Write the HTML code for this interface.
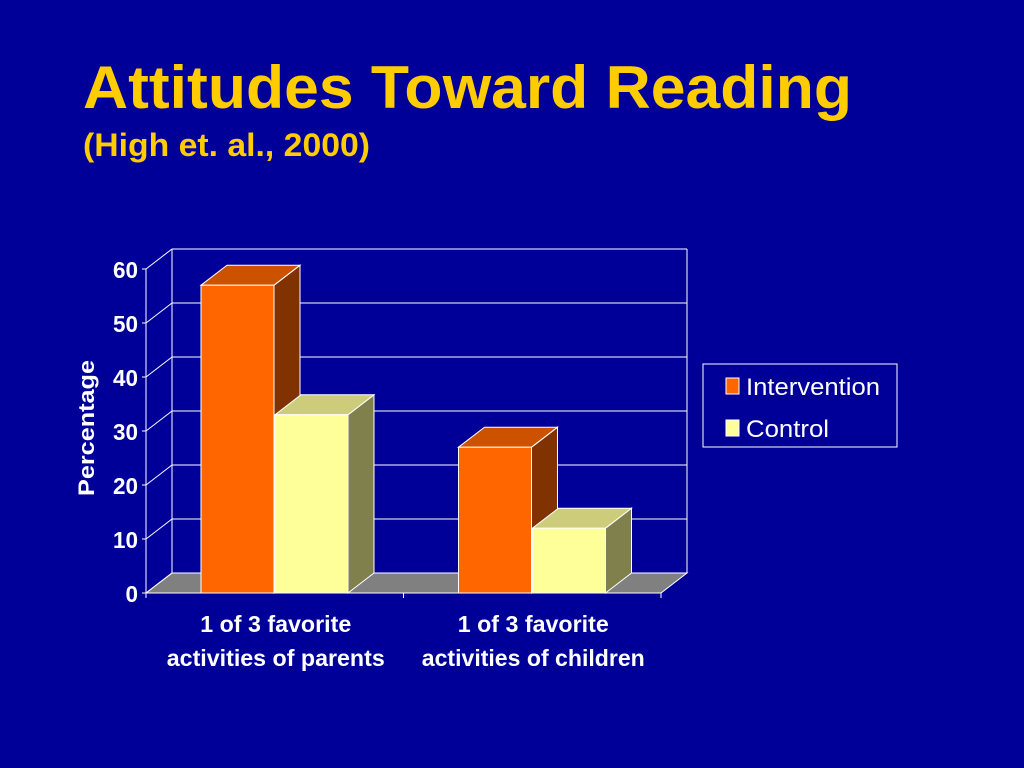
<!DOCTYPE html>
<html><head><meta charset="utf-8"><style>
body{margin:0;width:1024px;height:768px;background:#000099;overflow:hidden;font-family:"Liberation Sans",Arial,sans-serif}
svg{position:absolute;left:0;top:0}
</style></head><body>
<svg id="c" width="1024" height="768">
<text x="83" y="108" fill="#ffcc00" font-size="60" font-weight="bold" textLength="769" lengthAdjust="spacingAndGlyphs">Attitudes Toward Reading</text>
<text x="83" y="156" fill="#ffcc00" font-size="32" font-weight="bold" textLength="287" lengthAdjust="spacingAndGlyphs">(High et. al., 2000)</text>
<text transform="translate(94,428) rotate(-90)" text-anchor="middle" fill="#fff" font-size="22" font-weight="bold" textLength="136" lengthAdjust="spacingAndGlyphs">Percentage</text>
<g id="legend">
<rect x="703" y="364" width="194" height="83" fill="none" stroke="#fff" stroke-width="1"/>
<rect x="726" y="378" width="13" height="16" fill="#ff6600" stroke="#fff"/>
<text x="746" y="395" fill="#fff" font-size="24" textLength="134" lengthAdjust="spacingAndGlyphs">Intervention</text>
<rect x="726" y="420" width="13" height="16" fill="#ffff99" stroke="#fff"/>
<text x="746" y="437" fill="#fff" font-size="24" textLength="83" lengthAdjust="spacingAndGlyphs">Control</text>
</g>
</svg>
<script>
const categories1=["1 of 3 favorite","1 of 3 favorite"];
const categories2=["activities of parents","activities of children"];
const intervention=[57,27];
const control=[33,12];
const ticks=[0,10,20,30,40,50,60];
const svg=document.getElementById('c');
const NS='http://www.w3.org/2000/svg';
const X0=146,X1=661,Y0=593,PX=5.4,DX=26,DY=-20;
const y=v=>Y0-v*PX;
function el(t,a,p){const e=document.createElementNS(NS,t);for(const k in a)e.setAttribute(k,a[k]);(p||svg).appendChild(e);return e;}
const g=el('g',{});


const fl=el('polygon',{points:`${X0},${Y0} ${X1},${Y0} ${X1+DX},${Y0+DY} ${X0+DX},${Y0+DY}`,fill:'#808080',stroke:'#fff','stroke-width':1},g);


el('line',{x1:X0+DX,y1:y(60)+DY,x2:X1+DX,y2:y(60)+DY,stroke:'#fff'},g);
el('line',{x1:X1+DX,y1:y(60)+DY,x2:X1+DX,y2:Y0+DY,stroke:'#fff'},g);
el('line',{x1:X0+DX,y1:y(60)+DY,x2:X0+DX,y2:Y0+DY,stroke:'#fff'},g);
el('line',{x1:X0,y1:y(60),x2:X0,y2:Y0+4,stroke:'#fff'},g);
ticks.forEach(t=>{
  const gl=el('line',{x1:X0+DX,y1:y(t)+DY,x2:X1+DX,y2:y(t)+DY,stroke:'#fff'},g);
  
  
  el('line',{x1:X0,y1:y(t),x2:X0+DX,y2:y(t)+DY,stroke:'#fff'},g);
  el('line',{x1:X0-4,y1:y(t),x2:X0,y2:y(t),stroke:'#fff'},g);
  const tl=el('text',{x:X0-8,y:y(t)+9,'text-anchor':'end',fill:'#fff','font-size':23,'font-weight':'bold',textLength:String(t).length*12.5,lengthAdjust:'spacingAndGlyphs'},g);
  tl.textContent=t;
  
  
});
el('line',{x1:X0,y1:Y0,x2:X1,y2:Y0,stroke:'#fff'},g);
[X0,(X0+X1)/2,X1].forEach(x=>el('line',{x1:x,y1:Y0,x2:x,y2:Y0+5,stroke:'#fff'},g));
function bar(x,v,cf,ct,cs,name){
  const b=el('g',{},g);
  
  
  const w=73,top=y(v);
  el('polygon',{points:`${x+w},${top} ${x+w+DX},${top+DY} ${x+w+DX},${Y0+DY} ${x+w},${Y0}`,fill:cs,stroke:'#fff','stroke-width':1},b);
  el('polygon',{points:`${x},${top} ${x+DX},${top+DY} ${x+w+DX},${top+DY} ${x+w},${top}`,fill:ct,stroke:'#fff','stroke-width':1},b);
  el('rect',{x:x,y:top,width:w,height:Y0-top,fill:cf,stroke:'#fff','stroke-width':1},b);
}
const cw=(X1-X0)/2;
const w2=[218,223];
categories1.forEach((c,i)=>{
  const cx=X0+cw*i+55;
  bar(cx,intervention[i],'#ff6600','#cc5200','#803300','bar-intervention-'+(i+1));
  bar(cx+74,control[i],'#ffff99','#cccc7a','#80804d','bar-control-'+(i+1));
  const mid=X0+cw*(i+0.5)+1;
  const t1=el('text',{x:mid,y:632,'text-anchor':'middle',fill:'#fff','font-size':23,'font-weight':'bold',textLength:151,lengthAdjust:'spacingAndGlyphs'});
  t1.textContent=c;
  
  
  const t2=el('text',{x:mid,y:666,'text-anchor':'middle',fill:'#fff','font-size':23,'font-weight':'bold',textLength:w2[i],lengthAdjust:'spacingAndGlyphs'});
  t2.textContent=categories2[i];
  
  
});
svg.appendChild(document.getElementById('legend'));
</script>
</body></html>
